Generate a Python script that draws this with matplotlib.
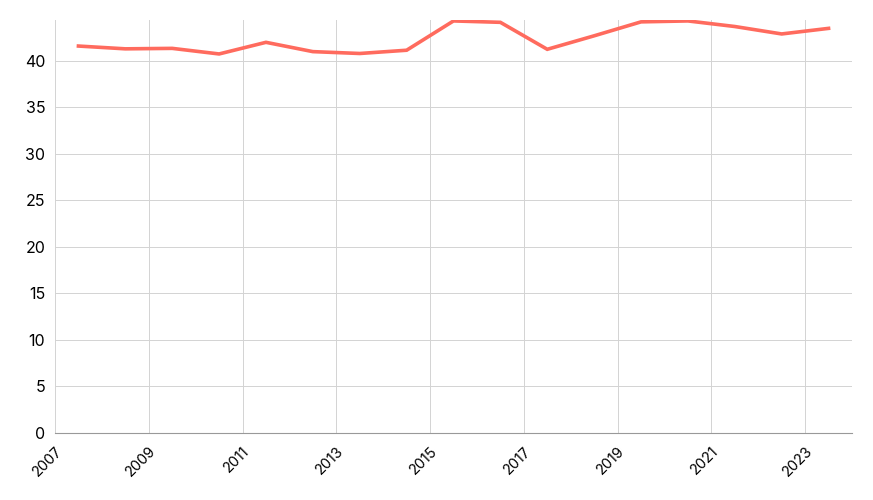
import matplotlib.pyplot as plt
import numpy as np

plt.rcParams['font.family'] = ['Inter', 'DejaVu Sans']

# mid-year observations
years = [2007.5, 2008.5, 2009.5, 2010.5, 2011.5, 2012.5, 2013.5, 2014.5,
         2015.5, 2016.5, 2017.5, 2018.5, 2019.5, 2020.5, 2021.5, 2022.5, 2023.5]
values = [41.6, 41.3, 41.35, 40.75, 42.0, 41.0, 40.8, 41.15,
          44.3, 44.15, 41.25, 42.7, 44.2, 44.3, 43.7, 42.9, 43.5]
xticks = list(range(2007, 2024, 2))
yticks = list(range(0, 41, 5))

fig = plt.figure(figsize=(8.73, 5), dpi=100)
ax = fig.add_axes([55 / 873, 67 / 500, 797 / 873, 413 / 500])

ax.plot(years, values, color='#ff6b5e', linewidth=2.6, solid_joinstyle='miter')

ax.set_xlim(2007, 2024)
ax.set_ylim(0, 44.4)
ax.set_xticks(xticks)
ax.set_xticklabels([str(x) for x in xticks], rotation=45, ha='right',
                   rotation_mode='anchor')
ax.set_yticks(yticks)
ax.tick_params(axis='y', length=0, labelsize=11.5, pad=7)
ax.tick_params(axis='x', length=0, labelsize=10.5, pad=8)
ax.grid(True, color='#d3d3d3', linewidth=0.7)
ax.set_axisbelow(True)
for s in ['top', 'right', 'left']:
    ax.spines[s].set_visible(False)
ax.spines['bottom'].set_color('#999999')

fig.savefig('out.png', dpi=100)
